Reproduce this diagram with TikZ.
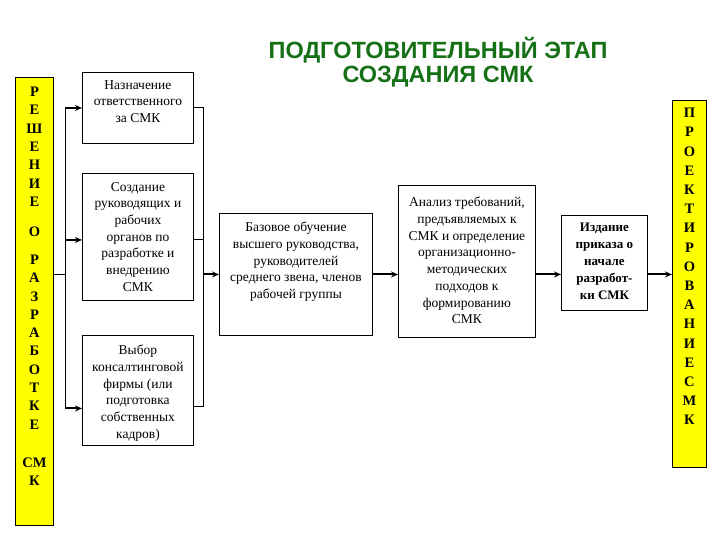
\documentclass[tikz,border=0pt]{standalone}
\usepackage{fontspec}
\setmainfont{Liberation Serif}
\newfontfamily\titlefont{Liberation Sans}
\usepackage{xcolor}
\usetikzlibrary{arrows.meta, positioning}
\definecolor{barfill}{HTML}{FFFF00}
\definecolor{titlegreen}{HTML}{167016}
\definecolor{inkOne}{HTML}{000000}
\tikzset{
  stage/.style={draw=inkOne, line width=0.9pt, fill=white, anchor=north west, inner sep=0pt},
  bar/.style={draw=inkOne, line width=0.9pt, fill=barfill, anchor=north west, inner sep=0pt},
  txt/.style={font=\fontsize{13.5}{16.7}\selectfont, align=center, inner sep=0pt, text=inkOne},
  bartxt/.style={font=\fontsize{14.5}{18.3}\selectfont\bfseries, align=center, inner sep=0pt, text=inkOne},
  bus/.style={draw=inkOne, line width=0.9pt},
  arr/.style={-{Stealth[length=7pt, width=6pt]}, draw=inkOne, line width=2pt},
}
\begin{document}
\begin{tikzpicture}[x=1pt, y=-1pt]
  \useasboundingbox (0,0) rectangle (720,540);
  % title
  \node[font=\titlefont\bfseries\fontsize{23.5}{23.5}\selectfont, text=titlegreen, align=center] (title) at (438,62)
    {ПОДГОТОВИТЕЛЬНЫЙ ЭТАП\\СОЗДАНИЯ СМК};
  % yellow bars
  \node[bar, minimum width=38pt, minimum height=448pt] (reshenie) at (15,77) {};
  \node[bartxt, below=10pt of reshenie.north, anchor=north]
    {Р\\Е\\Ш\\Е\\Н\\И\\Е\\[11.7pt]О\\[9.7pt]Р\\А\\З\\Р\\А\\Б\\О\\Т\\К\\Е\\[19.7pt]СМ\\К};
  \node[bar, minimum width=34pt, minimum height=367pt] (proekt) at (672,100) {};
  \node[bartxt, font=\fontsize{14.5}{19.2}\selectfont\bfseries, below=8pt of proekt.north, anchor=north]
    {П\\Р\\О\\Е\\К\\Т\\И\\Р\\О\\В\\А\\Н\\И\\Е\\С\\М\\К};
  % first column
  \node[stage, minimum width=111pt, minimum height=71pt] (b1) at (82,72) {};
  \node[txt, below=8pt of b1.north, anchor=north] {Назначение\\ответственного\\за СМК};
  \node[stage, minimum width=111pt, minimum height=127pt] (b2) at (82,173) {};
  \node[txt, below=9pt of b2.north, anchor=north]
    {Создание\\руководящих и\\рабочих\\органов по\\разработке и\\внедрению\\СМК};
  \node[stage, minimum width=111pt, minimum height=110pt] (b3) at (82,335) {};
  \node[txt, below=10pt of b3.north, anchor=north]
    {Выбор\\консалтинговой\\фирмы (или\\подготовка\\собственных\\кадров)};
  % chain to the right
  \node[stage, minimum width=153pt, minimum height=122pt] (b4) at (219,213) {};
  \node[txt, below=9pt of b4.north, anchor=north]
    {Базовое обучение\\высшего руководства,\\руководителей\\среднего звена, членов\\рабочей группы};
  \node[stage, minimum width=137pt, minimum height=152pt] (b5) at (398,185) {};
  \node[txt, below=12pt of b5.north, anchor=north]
    {Анализ требований,\\предъявляемых к\\СМК и определение\\организационно-\\методических\\подходов к\\формированию\\СМК};
  \node[stage, minimum width=86pt, minimum height=95pt] (b6) at (561,215) {};
  \node[txt, font=\fontsize{13}{17}\selectfont\bfseries, below=8pt of b6.north, anchor=north]
    {Издание\\приказа о\\начале\\разработ-\\ки СМК};
  % left fork
  \coordinate (lx) at (65,0);
  \coordinate (splitL) at (lx |- b4.west);
  \coordinate (b2in) at ([yshift=-3pt]b2.west);
  \coordinate (b3in) at ([yshift=-18pt]b3.west);
  \draw[bus] (reshenie.east |- splitL) -- (splitL);
  \draw[bus] (lx |- b1.west) -- (lx |- b3in);
  \draw[arr] (lx |- b1.west) -- (b1.west);
  \draw[arr] (lx |- b2in) -- (b2in);
  \draw[arr] (lx |- b3in) -- (b3in);
  % right join
  \coordinate (rx) at (203,0);
  \coordinate (b2out) at ([yshift=-2.5pt]b2.east);
  \coordinate (b3out) at ([yshift=-16pt]b3.east);
  \draw[bus] (b1.east) -- (rx |- b1.east) -- (rx |- b3out) -- (b3out);
  \draw[bus] (b2out) -- (rx |- b2out);
  \draw[arr] (rx |- b4.west) -- (b4.west);
  % flow
  \draw[arr] (b4.east) -- (b4.east -| b5.west);
  \draw[arr] (b5.east |- b4.east) -- (b6.west |- b4.east);
  \draw[arr] (b6.east |- b4.east) -- (proekt.west |- b4.east);
\end{tikzpicture}
\end{document}
